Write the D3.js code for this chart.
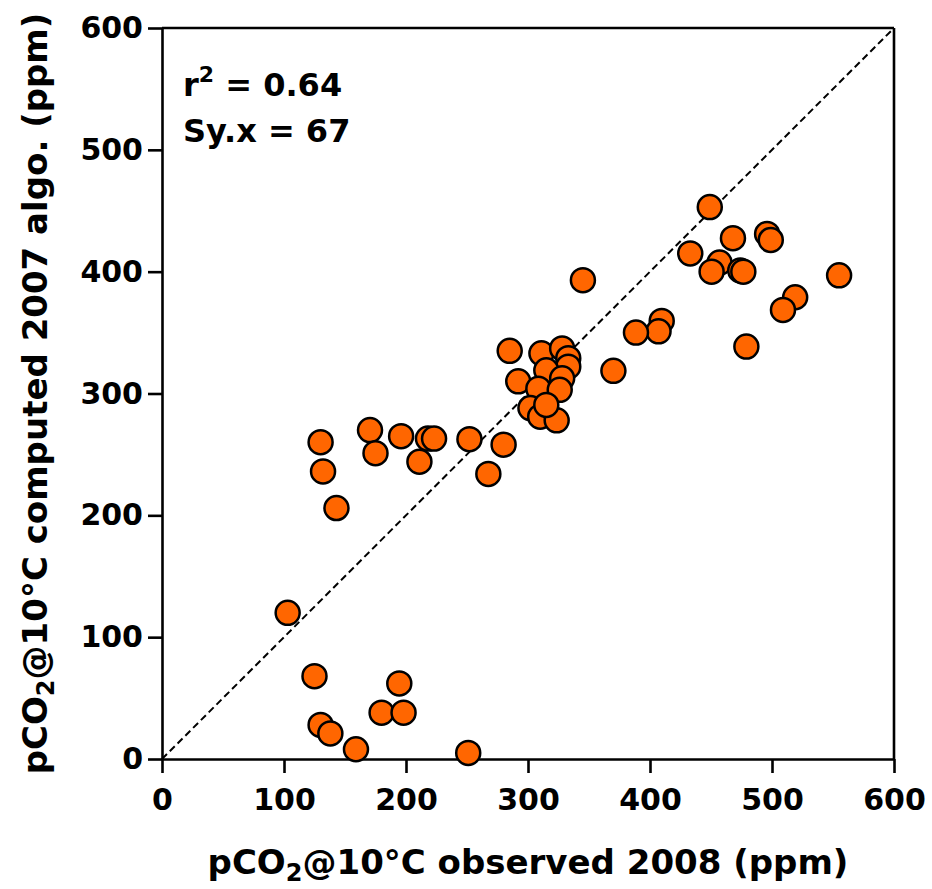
<!DOCTYPE html>
<html>
<head>
<meta charset="utf-8">
<script src="https://cdn.jsdelivr.net/npm/d3@7"></script>
<style>
  body { margin: 0; background: #fff; }
  text { font-family: "DejaVu Sans", sans-serif; font-weight: bold; fill: #000; }
  .axis path, .axis line { stroke: #000; stroke-width: 2.6px; }
  .axis text { font-size: 30px; }
</style>
</head>
<body>
<script>
// ==================== Data ============================
// observed 2008 (x) vs computed with 2007 algorithm (y), ppm
const observed = [
  103, 125, 130, 138, 159, 180, 194.5, 198, 251,
  130, 132, 143, 170.5, 175, 196, 211, 218, 223, 252, 267.5, 280,
  285, 311, 328, 333, 333, 315, 328, 292, 308.5, 326, 302, 310, 323.5, 315,
  345, 449, 468, 496, 499, 433, 457, 450.5, 474, 476.5, 555, 519, 509, 479,
  409.6, 407, 388.5, 370
];
const computed = [
  120, 68, 28, 21, 8, 38, 62, 38, 5,
  260, 236, 206, 270, 251, 265, 244, 263, 263, 262.5, 234, 258,
  335, 333, 337, 329, 322, 319, 312.5, 310, 304, 303, 288, 281, 278, 290.6,
  393, 453, 427.5, 431, 426, 415, 407.5, 400, 401, 400, 397, 379, 368.6, 338.5,
  359.6, 351, 350, 318.6
];
const xTicks = [0, 100, 200, 300, 400, 500, 600];
const yTicks = [0, 100, 200, 300, 400, 500, 600];
const identity = [0, 600];

// ==================== Set up Variables ============================
const margin = {top: 28, right: 38, bottom: 130, left: 162},
      width = 932 - margin.left - margin.right,
      height = 889 - margin.top - margin.bottom;

const x = d3.scaleLinear().domain([0, 600]).range([0, width]),
      y = d3.scaleLinear().domain([0, 600]).range([height, 0]);

const svg = d3.select('body')
  .append('svg')
    .attr('width', 932)
    .attr('height', 889)
  .append('g')
    .attr('transform', `translate(${margin.left}, ${margin.top})`);

// ==================== Draw ============================
// top and right frame lines
svg.append('line')
    .attr('x1', x(0)).attr('x2', x(600))
    .attr('y1', y(600)).attr('y2', y(600))
    .style('stroke', '#000').style('stroke-width', 2.6);
svg.append('line')
    .attr('x1', x(600)).attr('x2', x(600))
    .attr('y1', y(600)).attr('y2', y(0))
    .style('stroke', '#000').style('stroke-width', 2.6);

// identity line y = x
svg.append('path')
    .datum(identity)
    .attr('d', d3.line().x((d) => x(d)).y((d) => y(d)))
    .style('fill', 'none')
    .style('stroke', '#000')
    .style('stroke-width', 2)
    .style('stroke-dasharray', '7, 4');

// X axis
svg.append('g')
    .attr('class', 'axis')
    .attr('transform', `translate(0, ${height})`)
    .call(d3.axisBottom(x).tickValues(xTicks).tickSize(14).tickPadding(16).tickSizeOuter(0));

// Y axis
svg.append('g')
    .attr('class', 'axis')
    .call(d3.axisLeft(y).tickValues(yTicks).tickSize(14).tickPadding(5).tickSizeOuter(0));

// points
const points = observed.map((d, i) => ({obs: d, comp: computed[i]}));
svg.selectAll('circle.pt')
    .data(points)
    .enter()
  .append('circle')
    .attr('class', 'pt')
    .attr('cx', (d) => x(d.obs))
    .attr('cy', (d) => y(d.comp))
    .attr('r', 12)
    .style('fill', '#ff6600')
    .style('stroke', '#000')
    .style('stroke-width', 2.5);

// statistics
const stats = svg.append('text')
    .attr('x', 183 - margin.left)
    .attr('y', 96 - margin.top)
    .style('font-size', '32px');
stats.append('tspan').text('r');
stats.append('tspan').attr('dy', -14).style('font-size', '22px').text('2');
stats.append('tspan').attr('dy', 14).text(' = 0.64');

svg.append('text')
    .attr('x', 183 - margin.left)
    .attr('y', 142 - margin.top)
    .style('font-size', '32px')
    .text('Sy.x = 67');

// X axis title
const xt = svg.append('text')
    .attr('x', width / 2)
    .attr('y', 874 - margin.top)
    .style('font-size', '34px')
    .style('text-anchor', 'middle');
xt.append('tspan').text('pCO');
xt.append('tspan').attr('dy', 7).style('font-size', '24px').text('2');
xt.append('tspan').attr('dy', -7).text('@10°C observed 2008 (ppm)');

// Y axis title
const yt = svg.append('text')
    .attr('transform', `translate(${47 - margin.left}, ${height / 2}) rotate(-90)`)
    .style('font-size', '34px')
    .style('text-anchor', 'middle');
yt.append('tspan').text('pCO');
yt.append('tspan').attr('dy', 7).style('font-size', '24px').text('2');
yt.append('tspan').attr('dy', -7).text('@10°C computed 2007 algo. (ppm)');
</script>
</body>
</html>
